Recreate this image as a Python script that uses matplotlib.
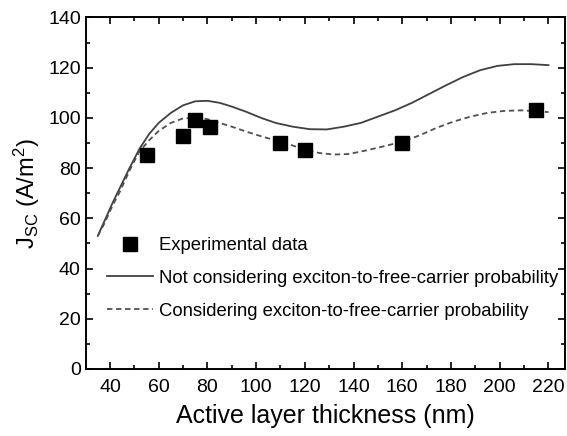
import matplotlib
matplotlib.use("Agg")
import matplotlib.pyplot as plt
from matplotlib.ticker import MultipleLocator

plt.rcParams['font.family'] = ['Liberation Sans', 'DejaVu Sans']
plt.rcParams['mathtext.default'] = 'regular'

# === Données ===
exp_thickness = [55, 70, 75, 81, 110, 120, 160, 215]
exp_jsc = [85.3, 92.9, 99.1, 96.3, 90.0, 87.4, 90.1, 103.0]

# sans la probabilité exciton -> porteur libre (trait plein)
sim_thickness = [35, 38, 41, 44, 48, 52, 56, 60, 65, 70, 75, 80, 85, 90, 96,
                 102, 108, 115, 122, 129, 136, 143, 150, 157, 164, 171, 178,
                 185, 192, 199, 206, 213, 220]
jsc_not_considering = [53, 59.5, 66, 72, 80, 87.5, 93.5, 98, 102, 105, 106.6, 106.8,
                       106, 104.5, 102.4, 100, 98, 96.5, 95.5, 95.4, 96.5, 98,
                       100.5, 103, 106, 109.5, 113, 116.3, 119, 120.7, 121.4,
                       121.4, 121]

# avec la probabilité (tirets)
sim2_thickness = [35, 38, 41, 44, 48, 52, 56, 60, 65, 70, 75, 80, 85, 90, 96,
                  102, 108, 115, 120, 126, 132, 138, 145, 152, 160, 167, 174,
                  181, 188, 195, 202, 209, 216, 220]
jsc_considering = [53, 58.5, 65, 70.5, 79, 86.5, 91, 94.8, 98, 99.8, 100.1, 99.5,
                   98, 96.5, 94.5, 92.7, 91, 89, 87.3, 86, 85.4, 85.6, 87, 88.6,
                   90.5, 93, 96, 98.5, 100.5, 102, 102.8, 103, 102.6, 102.3]

# === Figure ===
fig = plt.figure(figsize=(5.67, 4.36), dpi=100)
ax = fig.add_axes([0.151, 0.1537, 0.8455, 0.8063])

ax.plot(exp_thickness, exp_jsc, linestyle='none', marker='s', markersize=9.5,
        color='black', label='Experimental data', zorder=3)
ax.plot(sim_thickness, jsc_not_considering, '-', color='#404040', lw=1.3,
        label='Not considering exciton-to-free-carrier probability')
ax.plot(sim2_thickness, jsc_considering, '--', color='#505050', lw=1.3,
        dashes=(3, 2), label='Considering exciton-to-free-carrier probability')

ax.set_xlim(30, 226.8)
ax.set_ylim(0, 140)
ax.xaxis.set_major_locator(MultipleLocator(20))
ax.xaxis.set_minor_locator(MultipleLocator(10))
ax.yaxis.set_major_locator(MultipleLocator(20))
ax.yaxis.set_minor_locator(MultipleLocator(10))
ax.tick_params(which='both', direction='in', top=True, right=True, width=1.2)
ax.tick_params(which='major', length=5, labelsize=14)
ax.tick_params(axis='x', which='major', pad=7)
ax.tick_params(which='minor', length=3)
for s in ax.spines.values():
    s.set_linewidth(1.4)

ax.set_xlabel('Active layer thickness (nm)', fontsize=18, labelpad=6)
ax.set_ylabel('J$_{SC}$ (A/m$^{2}$)', fontsize=17)

ax.legend(loc='upper left', bbox_to_anchor=(0.045, 0.375), frameon=False,
          fontsize=13.3, handlelength=2.5, handletextpad=0.3, labelspacing=0.85,
          borderpad=0, borderaxespad=0)

fig.savefig('out.png', dpi=100)
